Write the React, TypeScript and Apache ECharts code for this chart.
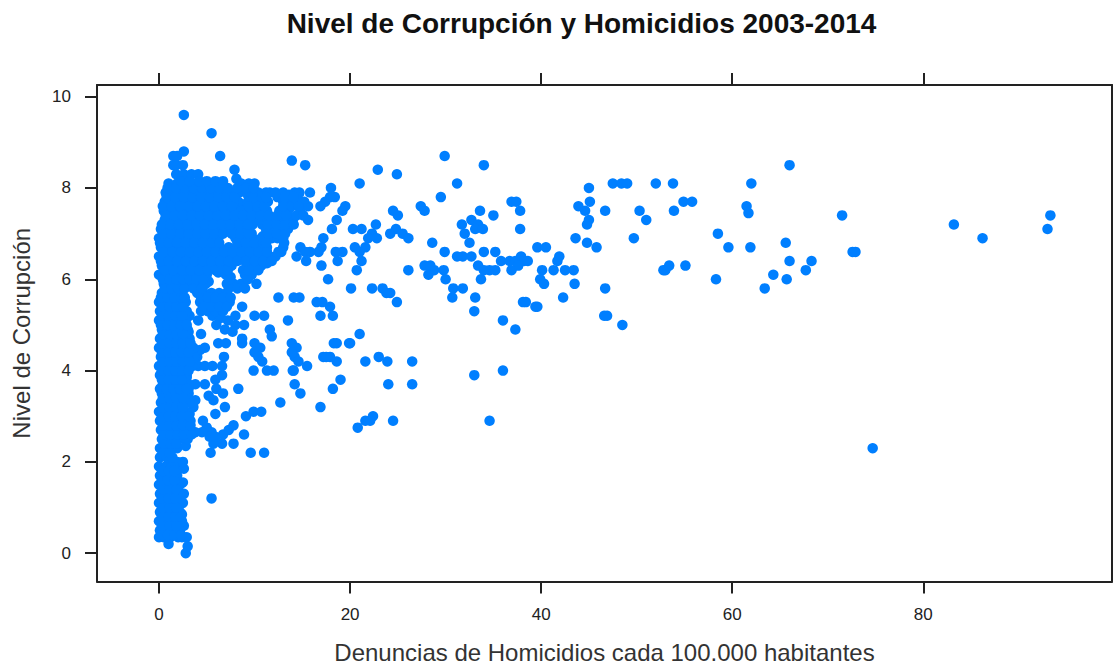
import React, { useEffect, useRef } from "react";
import * as echarts from "echarts";

const titleText = "Nivel de Corrupción y Homicidios 2003-2014";
const xName = "Denuncias de Homicidios cada 100.000 habitantes";
const yName = "Nivel de Corrupción";
const xTicks = [0, 20, 40, 60, 80];
const yTicks = [0, 2, 4, 6, 8, 10];

const farPoints: number[][] = [
  [74.7, 2.3], [93.3, 7.4], [93, 7.1], [86.2, 6.9], [83.2, 7.2], [71.5, 7.4], [72.6, 6.6], [72.9, 6.6],
  [66, 8.5], [62, 8.1], [61.5, 7.6], [61.7, 7.45], [61.9, 6.7], [59.6, 6.7], [58.5, 7], [58.3, 6],
  [65.6, 6.8], [66, 6.4], [65.7, 6], [64.3, 6.1], [63.4, 5.8], [67.7, 6.2], [68.3, 6.4],
  [52, 8.1], [53.8, 8.1], [54.9, 7.7], [55.8, 7.7], [53.9, 7.5], [55.1, 6.3], [52.8, 6.2], [53, 6.2], [53.4, 6.3],
  [50.3, 7.5], [51, 7.3], [49.7, 6.9], [45, 8], [47.5, 8.1], [48.4, 8.1], [49, 8.1], [45.1, 7.7], [46.7, 7.5],
  [43.9, 7.6], [44.6, 7.5], [45, 7.3], [44.8, 7.2], [43.6, 6.9], [44.8, 6.8], [45.8, 6.7],
  [39.6, 6.7], [40.5, 6.7], [43.4, 6.2], [42.5, 6.2], [41.3, 6.2], [41.7, 6.4], [41.9, 6.5], [40.1, 6.2],
  [39.9, 6], [40.3, 5.9], [42.3, 5.6], [43.5, 5.9], [46.7, 5.8], [46.6, 5.2], [46.9, 5.2], [48.5, 5],
];

const midPoints: number[][] = [
  [38.1, 5.5], [38.4, 5.5], [39.4, 5.4], [39.6, 5.4], [36, 5.1], [37.3, 4.9], [33, 3.9], [36, 4], [34.6, 2.9],
  [36.9, 7.7], [37.4, 7.7], [37.8, 7.5], [37.8, 7.1], [33.6, 7.5], [35, 7.4], [34, 8.5], [29.9, 8.7], [31.2, 8.1], [29.5, 7.8],
  [31.7, 7.2], [32.7, 7.3], [33.4, 7.2], [33.1, 7.1], [33.9, 7.1], [32, 7], [32.5, 6.8], [28.6, 6.8], [29.9, 6.6],
  [31.8, 6.5], [31.2, 6.5], [32.7, 6.5], [34, 6.6], [35.2, 6.6], [35.8, 6.4], [36.7, 6.4], [37.3, 6.4], [37.9, 6.5],
  [38.2, 6.4], [38.6, 6.4], [37.6, 6.3], [36.9, 6.2], [27.8, 6.3], [28.4, 6.3], [28.8, 6.2], [28.2, 6.1], [29.8, 6.2],
  [30, 6], [30.8, 5.8], [30.7, 5.6], [31.8, 5.8], [33.1, 5.6], [33, 5.3], [33.7, 6], [34.6, 6.2], [33.4, 6.3], [34, 6.2], [35.2, 6.2],
  [22.9, 8.4], [24.9, 8.3], [21, 8.1], [18, 8], [18.4, 7.8], [17.9, 7.8], [17.4, 7.7], [16.9, 7.6], [19.5, 7.6], [19.2, 7.5],
  [18.6, 7.3], [18.1, 7.1], [15.8, 7.9], [15.2, 7.7], [15.6, 7.6], [24.5, 7.5], [25, 7.4], [24.8, 7.1], [24.2, 7],
  [25.5, 7], [26.1, 6.9], [22.7, 7.2], [22.3, 7], [21.9, 6.9], [21.2, 7.1], [20.3, 7.1], [22.8, 6.9], [21.6, 6.7], [20.5, 6.7],
  [21, 6.6], [21.2, 6.4], [20.7, 6.2], [19.2, 6.6], [18.7, 6.4], [17.2, 6.9], [17, 6.7], [16.7, 6.6], [15.8, 6.6], [14.4, 6.5],
  [14.8, 6.7], [15.3, 6.6], [18.5, 6.6], [17, 6.3], [15.4, 6.4], [27.4, 7.6], [27.8, 7.5], [26.1, 6.2],
  [20.1, 5.8], [17.7, 6], [23.4, 5.8], [24.2, 5.7], [24.9, 5.5], [23.8, 5.7], [22.3, 5.8], [16.5, 5.5], [17.1, 5.5], [17.9, 5.4],
  [16.9, 5.2], [18.2, 5.2], [14.7, 5.6], [14.1, 5.6], [21, 4.8], [20, 4.6], [18.6, 4.6], [13.9, 4.6], [14.4, 4.5], [17.9, 4.3],
  [17.2, 4.3], [17.5, 4.3], [18.6, 4.2], [21.6, 4.2], [23, 4.3], [23.9, 4.2], [26.5, 4.2], [14.2, 4.3], [13.9, 4.4], [14.1, 4],
  [19, 3.8], [18.2, 3.6], [24, 3.7], [26.5, 3.7], [14.2, 3.7], [14.8, 3.5], [16.9, 3.2], [12.7, 3.3], [20.8, 2.75], [21.6, 2.9],
  [22.4, 3], [24.5, 2.9], [22.1, 2.9], [13.9, 8.6], [15.3, 8.5],
];

const nearPoints: number[][] = [
  [2.6, 9.6], [5.5, 9.2], [6.4, 8.7], [7.9, 8.4], [8.1, 8.2], [2.6, 8.8],
  [4.4, 4.8], [8.3, 3.6], [5.5, 1.2], [9.6, 2.2], [11, 2.2], [7.8, 2.4], [6.6, 2.4], [5.4, 2.2], [5.7, 2.4],
  [9.1, 3], [9.9, 3.1], [10.7, 3.1], [7.8, 2.8], [8.9, 2.6], [6.7, 2.6], [7.3, 2.7],
  [10, 5.2], [11, 5.2], [13.5, 5.1], [11.6, 4.9], [11.8, 4.75], [8.7, 4.7], [8.7, 4.6], [3.2, 5.2], [4.1, 5.1],
  [5.6, 5.2], [6.4, 5.15], [7.2, 5.1], [8, 5], [8.9, 5], [6, 5], [6.9, 4.9], [7.7, 4.85], [8.7, 5.4], [8, 5.2],
  [6.2, 4.6], [7, 4.6], [4.8, 4.5], [4.3, 4.45], [4, 4.3], [10, 4.6], [10.6, 4.5], [10, 4.4], [10.4, 4.3], [10.8, 4.2],
  [18.3, 4.6], [19.9, 4.6], [6.8, 4.3], [6.6, 4.1], [6.6, 3.9], [4.1, 4.1], [4.8, 4.1], [5.6, 4.1],
  [9.9, 4], [11.3, 4], [12, 4], [14, 4], [15.5, 4.1], [14.6, 4.2],
  [5.9, 3.8], [4.8, 3.7], [3.8, 3.7], [6, 3.6], [6.7, 3.5], [5.2, 3.45], [5.7, 3.35], [3.8, 3.35], [6.9, 3.2], [3.6, 3.2], [5.9, 3.05],
  [4.6, 2.9], [5, 2.75], [5.5, 2.65], [5.3, 2.55], [5.9, 2.55], [4.5, 2.65], [3.8, 2.65],
  [2.8, 0], [3, 0.15], [1, 0.2], [10.2, 5.9], [12.5, 5.6],
];

const blobFill: number[][] = [
  [9.8, 7.2], [11, 7.3], [10.8, 7.2], [9.7, 7], [10.9, 6.95], [11.9, 7.2], [11.1, 7.5], [11.8, 7.35], [12.9, 7.55],
  [12.4, 7.8], [11.4, 7.7], [11.6, 7.9], [8.9, 7.6], [8.3, 7.7], [8.2, 7.5], [9, 8], [8.4, 7.9], [9.3, 7.85],
  [12.1, 6.95], [12.5, 6.6], [11.8, 6.9], [12.4, 7.05], [13.5, 7.35], [12.7, 7.3], [14.5, 7.7], [14.7, 7.9], [13.6, 7.85],
  [10.2, 6.25], [11.3, 6.35], [8, 6.45], [7.6, 6.3], [9, 6.4], [6.2, 6.15], [5.2, 5.95], [7.5, 6.05], [8.8, 6.2],
  [2.9, 3.35], [3.1, 3.6], [2.9, 3.85], [3.2, 3.3], [3.1, 4.85], [3.3, 4.55], [3.2, 3.05], [2.8, 2.35], [3.3, 2.9],
  [2.6, 1.85], [2.5, 1.55], [2.6, 1.3], [2.4, 0.85], [2.6, 0.6],
];

const lowRows: [number, number[]][] = [
  [0.35, [0, 0.5, 1.2, 2, 2.4, 2.9]], [0.5, [0.1, 0.8, 1.5, 2.2]], [0.7, [0, 0.6, 1.3, 1.9, 2.4]],
  [0.9, [0.1, 0.8, 1.5, 2.2]], [1.1, [0, 0.7, 1.4, 2.1, 2.5]], [1.3, [0.1, 0.8, 1.5, 2.2]],
  [1.5, [0, 0.6, 1.2, 1.8, 2.2]], [1.7, [0.1, 0.8, 1.4, 1.9]], [1.9, [0, 0.7, 1.3, 1.9]],
  [2, [1.5, 1.9, 2.5]], [2.1, [0.1, 0.8, 1.4]], [2.3, [0.1, 0.7, 1.4, 1.9]], [2.5, [0.3, 0.9, 1.5, 2.1, 3]],
  [2.7, [0.2, 0.9, 1.6, 2.4, 3.1]], [2.9, [0.1, 0.8, 1.5, 2.2, 2.9]], [3.1, [0, 0.7, 1.4, 2.1, 2.8]],
  [3.3, [0.2, 0.9, 1.6, 2.3]], [3.5, [0.3, 1, 1.7, 2.4, 3.1]], [3.7, [0.4, 1.1, 1.8, 2.5, 3.1]],
  [3.9, [0.1, 0.8, 1.5, 2.2, 2.9]], [4.1, [0, 0.7, 1.4, 2.1, 2.8, 3.5]], [4.3, [0.2, 0.9, 1.6, 2.3, 3, 3.7]],
  [4.5, [0, 0.7, 1.4, 2.1, 2.8, 3.6]], [4.7, [0.1, 0.8, 1.5, 2.2, 3.2]], [4.9, [0.3, 1, 1.7, 2.4, 3]],
  [5.1, [0, 0.7, 1.4, 2.1, 2.8]], [5.3, [0.1, 0.8, 1.5, 2.2, 2.9, 4.4, 5.1, 5.9, 6.7]],
  [5.5, [0, 0.7, 1.4, 2.1, 2.8, 4.3, 5, 5.8, 6.6, 7.4]],
  [5.7, [0.3, 1, 1.7, 2.4, 4, 4.7, 5.5, 6.3, 7.1]],
  [5.9, [0.5, 1.2, 1.9, 2.6, 3.3, 4.2, 4.9, 7.1, 7.8, 8.6]],
  [6.1, [0, 0.8, 1.5, 2.2, 2.9, 3.6, 4.3, 5, 7, 9, 9.7]],
];

const lowEvenRows: [number, number[]][] = [
  [0.4, [0.3, 0.9, 1.6, 2.3]], [0.6, [0.4, 1.1, 1.8]], [0.8, [0.3, 1, 1.7, 2.3]], [1, [0.4, 1.1, 1.8]],
  [1.2, [0.3, 1, 1.7]], [1.4, [0.4, 1.1, 1.8]], [1.6, [0.3, 0.9, 1.6]], [1.8, [0.4, 1, 1.6]],
  [2.2, [0.4, 1.1]], [2.4, [0.5, 1.2, 1.8]], [2.6, [0.5, 1.2, 1.9, 2.6, 3.4]], [2.8, [0.4, 1.1, 1.8, 2.5, 3.3]],
  [3, [0.3, 1, 1.7, 2.4, 3.1]], [3.2, [0.4, 1.1, 1.8, 2.5]], [3.4, [0.4, 1.1, 1.8, 2.5]], [3.6, [0.1, 0.8, 1.5, 2.2, 2.9]],
  [3.8, [0.3, 1, 1.7, 2.4]], [4, [0.3, 1, 1.7, 2.4, 3.1]], [4.2, [0.4, 1.1, 1.8, 2.5, 3.2]], [4.4, [0.3, 1, 1.7, 2.4, 3.1]],
  [4.6, [0.4, 1.1, 1.8, 2.5, 3.3]], [4.8, [0.4, 1.1, 1.8, 2.5]], [5, [0.2, 0.9, 1.6, 2.3, 2.9]], [5.2, [0.3, 1, 1.7, 2.4]],
  [5.4, [0.4, 1.1, 1.8, 2.5, 4.7, 5.5, 6.3, 7.1]], [5.6, [0.2, 0.9, 1.6, 2.3, 2.7, 4.4, 5.1, 5.9, 6.7, 7.5]],
  [5.8, [0.6, 1.3, 2, 2.7, 3.6, 4.5, 7.3, 8.2, 9]], [6, [0.4, 1.1, 1.8, 2.5, 3.2, 3.9, 4.6, 7.4, 9.3]],
];

const upperRows: [number, number[]][] = [
  [6.3, [0.3, 1.1, 2, 2.9, 3.8, 4.7, 5.6, 6.5, 7.4, 9.2, 10, 10.7]],
  [6.5, [0, 0.8, 1.7, 2.6, 3.5, 4.4, 5.3, 6.2, 7.1, 8, 8.9, 9.8, 10.7, 11.6, 12.2]],
  [6.7, [0.2, 1, 1.9, 2.8, 3.7, 4.6, 5.5, 6.4, 7.3, 8.2, 9.1, 10, 10.9, 11.3, 13]],
  [6.9, [0, 0.9, 1.8, 2.7, 3.6, 4.5, 5.4, 6.2, 8, 8.9, 9.8, 10.7, 11.6, 12.4, 13]],
  [7.1, [0.2, 1.1, 2, 2.9, 3.8, 4.7, 5.6, 6.5, 7.4, 8.3, 9.2, 11.2, 12, 12.7, 13.5]],
  [7.3, [0.6, 1.5, 2.4, 3.3, 4.2, 5.1, 6, 6.9, 7.8, 8.7, 9.6, 10.5, 11.4, 12.3, 13.2, 14, 15.6]],
  [7.5, [0.5, 1.4, 2.3, 3.2, 4.1, 5, 5.9, 6.8, 7.7, 8.6, 9.5, 10.4, 11.3, 12.6, 13.5, 14.8]],
  [7.7, [0.6, 1.5, 2.4, 3.3, 4.2, 5.1, 6, 6.9, 7.8, 9.3, 10.2, 11, 13, 14, 15]],
  [7.9, [0.7, 1.6, 2.5, 3.4, 4.3, 5.2, 6.1, 7, 7.9, 8.3, 9.6, 10.4, 11.2, 12.2, 13, 14.2]],
  [8.1, [1, 1.9, 2.8, 3.7, 4.6, 5.5, 6.4, 8.6, 9.4, 10]],
  [8.3, [1.8, 2.6, 3.4, 4.1]],
  [8.5, [1.5, 2.5, 1.8]],
  [8.7, [1.5, 1.9]],
];

const upperEvenRows: [number, number[]][] = [
  [6.2, [0.6, 1.5, 2.4, 3.3, 4.2, 5.1, 5.9, 6.6, 7.2, 9.4, 10.4]],
  [6.4, [0.2, 1, 1.9, 2.8, 3.7, 4.6, 5.5, 6.4, 7.3, 8.2, 9.1, 10, 10.9, 11.8]],
  [6.6, [0.5, 1.4, 2.3, 3.2, 4.1, 5, 5.9, 6.8, 7.7, 8.6, 9.5, 10.4, 11.3, 12.8]],
  [6.8, [0.1, 1, 1.9, 2.8, 3.7, 4.6, 5.5, 6.3, 8.2, 9.1, 10, 10.9, 11.2, 13.1]],
  [7, [0.4, 1.3, 2.2, 3.1, 4, 4.9, 5.8, 6.7, 7.6, 8.5, 9.4, 11.4, 12.3, 13.2]],
  [7.2, [0.3, 1.2, 2.1, 3, 3.9, 4.8, 5.7, 6.6, 7.5, 8.4, 9.3, 11.4, 12.3, 13.2, 14.1]],
  [7.4, [0.7, 1.6, 2.5, 3.4, 4.3, 5.2, 6.1, 7, 7.9, 8.8, 9.7, 10.6, 11.5, 12.4, 13.3, 14.4, 15.1]],
  [7.6, [0.4, 1.3, 2.2, 3.1, 4, 4.9, 5.8, 6.7, 7.6, 9.4, 10.3, 11, 13, 13.9, 14.6]],
  [7.8, [0.8, 1.7, 2.6, 3.5, 4.4, 5.3, 6.2, 7.1, 7.9, 9.9, 10.8, 11.2, 13.2, 14.1]],
  [8, [0.9, 1.8, 2.7, 3.6, 4.5, 5.4, 6.3, 7.2, 8.2, 9.1, 9.9]],
  [8.15, [2.3, 3.2, 4.2, 5, 5.9, 6.7]],
];

const rowsToPoints = (rows: [number, number[]][]) =>
  rows.flatMap(([y, xs]) => xs.map((x) => [x, y]));

const ink = "#222222";
const frameAxis = {
  axisLine: { show: true, onZero: false, lineStyle: { color: ink, width: 2 } },
  splitLine: { show: false },
};

export default function App() {
  const ref = useRef<HTMLDivElement>(null);
  useEffect(() => {
    document.body.style.margin = "0";
    const chart = echarts.init(ref.current!, null, { renderer: "svg" });
    const font = "Liberation Sans";
    chart.setOption({
      animation: false,
      backgroundColor: "#ffffff",
      title: {
        text: titleText,
        left: 581.5 - 5,
        top: 4,
        textAlign: "center",
        textStyle: { fontFamily: font, fontWeight: "bold", fontSize: 28, color: "#111111" },
      },
      grid: { left: 97, top: 85, width: 1015, height: 496.5, outerBoundsMode: "none", containLabel: false },
      xAxis: [
        {
          type: "value", min: -6.49, max: 99.75, position: "bottom", ...frameAxis,
          name: xName, nameLocation: "middle", nameGap: 59,
          nameTextStyle: { fontFamily: font, fontSize: 24, color: "#333333" },
          axisTick: { show: true, length: 12, customValues: xTicks, lineStyle: { color: ink, width: 2 } },
          axisLabel: { show: true, customValues: xTicks, margin: 24, fontFamily: font, fontSize: 17, color: ink },
        },
        {
          type: "value", min: -6.49, max: 99.75, position: "top", ...frameAxis,
          axisTick: { show: true, length: 12, customValues: xTicks, lineStyle: { color: ink, width: 2 } },
          axisLabel: { show: false },
        },
      ],
      yAxis: [
        {
          type: "value", min: -0.62, max: 10.256, position: "left", ...frameAxis,
          name: yName, nameLocation: "middle", nameGap: 64, nameRotate: 90,
          nameTextStyle: { fontFamily: font, fontSize: 24, color: "#333333" },
          axisTick: { show: true, length: 12, customValues: yTicks, lineStyle: { color: ink, width: 2 } },
          axisLabel: { show: true, customValues: yTicks, margin: 26, fontFamily: font, fontSize: 17, color: ink },
        },
        {
          type: "value", min: -0.62, max: 10.256, position: "right", ...frameAxis,
          axisTick: { show: false },
          axisLabel: { show: false },
        },
      ],
      series: [
        {
          type: "scatter",
          symbol: "circle",
          symbolSize: 10.5,
          itemStyle: { color: "#007FFF", opacity: 1 },
          data: [
            ...farPoints, ...midPoints, ...nearPoints, ...blobFill,
            ...rowsToPoints(lowRows), ...rowsToPoints(lowEvenRows),
            ...rowsToPoints(upperRows), ...rowsToPoints(upperEvenRows),
          ],
        },
      ],
    });
    return () => chart.dispose();
  }, []);
  return <div ref={ref} style={{ width: 1113, height: 665 }} />;
}
